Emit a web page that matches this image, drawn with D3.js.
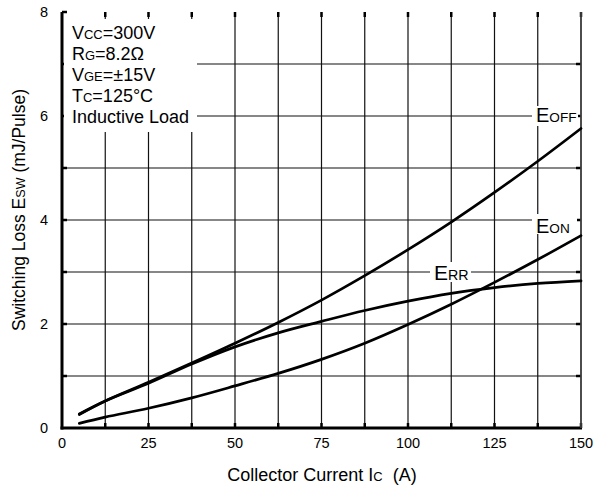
<!DOCTYPE html>
<html><head><meta charset="utf-8">
<script src="https://cdn.jsdelivr.net/npm/d3@7"></script>
<style>body{margin:0;background:#fff}svg{display:block;font-family:"Liberation Sans",Arial,sans-serif}</style>
</head><body>
<svg id="c" width="597" height="488"></svg>
<script>
const xTicks = [0,25,50,75,100,125,150];
const yTicks = [0,2,4,6,8];
const currents = [5,12.5,25,37.5,50,62.5,75,87.5,100,112.5,125,137.5,150];
const eoff = [0.26,0.52,0.88,1.25,1.63,2.03,2.46,2.93,3.43,3.96,4.53,5.13,5.76];
const eon  = [0.09,0.21,0.38,0.58,0.81,1.05,1.32,1.63,1.99,2.38,2.80,3.24,3.70];
const err  = [0.27,0.52,0.86,1.23,1.56,1.83,2.05,2.26,2.44,2.59,2.70,2.78,2.83];

const svg = d3.select("#c");
const L=62, R=581, T=12, B=428;
const x = d3.scaleLinear().domain([0,150]).range([L,R]);
const y = d3.scaleLinear().domain([0,8]).range([B,T]);

// grid
const gx = d3.range(12.5,150.1,12.5), gy = d3.range(1,8.1,1);
svg.append("g").selectAll("line").data(gx).join("line")
  .attr("x1",d=>x(d)).attr("x2",d=>x(d)).attr("y1",T).attr("y2",B)
  .attr("stroke","#111").attr("stroke-width",1.2);
svg.append("g").selectAll("line").data(gy.filter(d=>d<8)).join("line")
  .attr("x1",L).attr("x2",R).attr("y1",d=>y(d)).attr("y2",d=>y(d))
  .attr("stroke","#111").attr("stroke-width",1.2);
// ticks (inward)
svg.append("g").selectAll("line").data(gx).join("line")
  .attr("x1",d=>x(d)).attr("x2",d=>x(d)).attr("y1",B).attr("y2",B-5)
  .attr("stroke","#000").attr("stroke-width",2.5);
svg.append("g").selectAll("line").data(gx).join("line")
  .attr("x1",d=>x(d)).attr("x2",d=>x(d)).attr("y1",T).attr("y2",T+5)
  .attr("stroke","#000").attr("stroke-width",2.5);
svg.append("g").selectAll("line").data(d3.range(1,9,1)).join("line")
  .attr("x1",L).attr("x2",L+5).attr("y1",d=>y(d)).attr("y2",d=>y(d))
  .attr("stroke","#000").attr("stroke-width",2.5);
svg.append("g").selectAll("line").data(d3.range(1,8,1)).join("line")
  .attr("x1",R).attr("x2",R-5).attr("y1",d=>y(d)).attr("y2",d=>y(d))
  .attr("stroke","#000").attr("stroke-width",2.5);

// white boxes behind labels
svg.append("rect").attr("x",L+2).attr("y",T+7).attr("width",133).attr("height",113).attr("fill","#fff");
svg.append("rect").attr("x",532).attr("y",y(6)-10).attr("width",46).attr("height",20).attr("fill","#fff");
svg.append("rect").attr("x",532).attr("y",y(4)-6).attr("width",45).attr("height",20).attr("fill","#fff");
svg.append("rect").attr("x",430).attr("y",y(3)-10).attr("width",41).attr("height",20).attr("fill","#fff");

// axes
svg.append("line").attr("x1",L).attr("x2",L).attr("y1",T).attr("y2",B+1.5).attr("stroke","#000").attr("stroke-width",3);
svg.append("line").attr("x1",L-1.5).attr("x2",R+1).attr("y1",B).attr("y2",B).attr("stroke","#000").attr("stroke-width",3);
svg.append("line").attr("x1",R).attr("x2",R).attr("y1",T).attr("y2",B).attr("stroke","#444").attr("stroke-width",1.6);

// curves
const line = d3.line().x((d,i)=>x(currents[i])).y(d=>y(d)).curve(d3.curveCatmullRom);
[eoff,eon,err].forEach(s=>svg.append("path").attr("d",line(s)).attr("fill","none")
  .attr("stroke","#000").attr("stroke-width",2.7).attr("stroke-linecap","round"));

// tick labels
svg.append("g").selectAll("text").data(xTicks).join("text")
  .attr("x",d=>x(d)).attr("y",B+20).attr("text-anchor","middle")
  .attr("font-size",14.5).text(d=>d);
svg.append("g").selectAll("text").data(yTicks).join("text")
  .attr("x",L-14).attr("y",d=>y(d)+5).attr("text-anchor","end")
  .attr("font-size",14.5).text(d=>d);

// helper for text with small-caps subscripts
function sub(t, parts, fs, r){
  parts.forEach(p=>t.append("tspan").attr("font-size",p[1]?fs*(r||0.72):fs).text(p[0]));
  return t;
}
const ann = [
  [["V",0],["CC",1],["=300V",0]],
  [["R",0],["G",1],["=8.2Ω",0]],
  [["V",0],["GE",1],["=±15V",0]],
  [["T",0],["C",1],["=125°C",0]],
  [["Inductive Load",0]]
];
ann.forEach((a,i)=>sub(svg.append("text").attr("x",L+10).attr("y",T+27+i*21),a,18));

sub(svg.append("text").attr("x",536).attr("y",122),[["E",0],["OFF",1]],20,0.68);
sub(svg.append("text").attr("x",536).attr("y",233),[["E",0],["ON",1]],20,0.68);
sub(svg.append("text").attr("x",434).attr("y",280),[["E",0],["RR",1]],21,0.68);

// axis titles
sub(svg.append("text").attr("x",322).attr("y",481).attr("text-anchor","middle"),
  [["Collector Current I",0],["C",1],["\u00a0\u00a0(A)",0]],18);
sub(svg.append("text").attr("transform","translate(25,210) rotate(-90)").attr("text-anchor","middle"),
  [["Switching Loss E",0],["SW",1],[" (mJ/Pulse)",0]],17.5);
</script>
</body></html>
